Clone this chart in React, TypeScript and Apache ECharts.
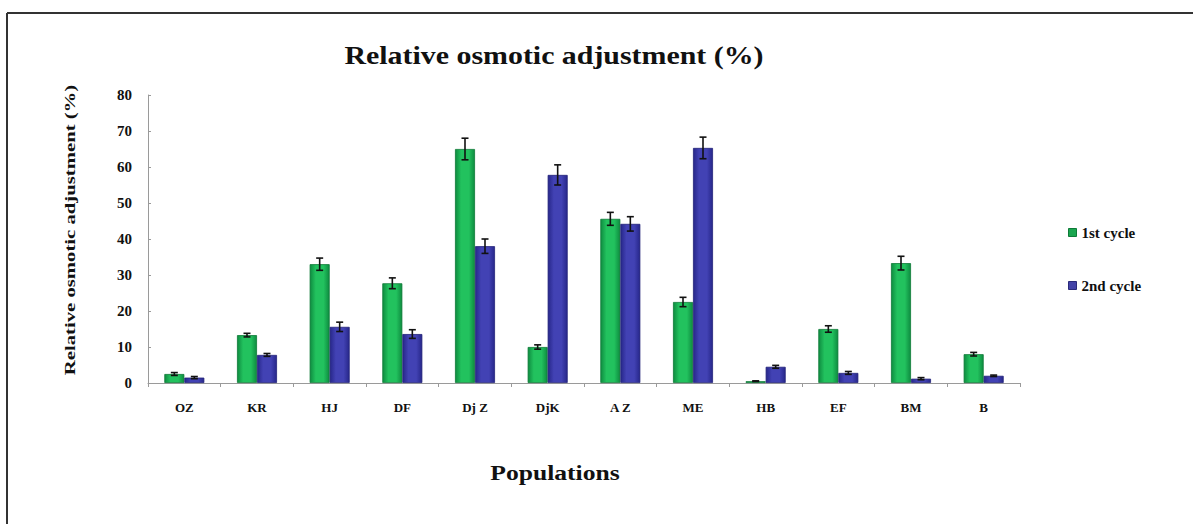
import React, { useEffect, useRef } from "react";
import * as echarts from "echarts";

const categories = ["OZ", "KR", "HJ", "DF", "Dj Z", "DjK", "A Z", "ME", "HB", "EF", "BM", "B"];
const cycle1 = [2.5, 13.3, 33, 27.7, 65, 10, 45.6, 22.5, 0.5, 15, 33.3, 8];
const cycle2 = [1.5, 7.8, 15.6, 13.6, 38, 57.8, 44.2, 65.3, 4.5, 2.8, 1.2, 2];
const err1 = [0.4, 0.5, 1.7, 1.5, 3, 0.6, 1.8, 1.3, 0.1, 0.9, 1.9, 0.5];
const err2 = [0.3, 0.4, 1.3, 1.2, 2, 2.8, 2.0, 3.0, 0.4, 0.4, 0.3, 0.2];
const yTicks = [0, 10, 20, 30, 40, 50, 60, 70, 80];

const FONT = "'Liberation Serif', 'Times New Roman', serif";

const greenGrad = new echarts.graphic.LinearGradient(0, 0, 1, 0, [
  { offset: 0, color: "#0e8c40" },
  { offset: 0.3, color: "#22c25e" },
  { offset: 0.7, color: "#22c25e" },
  { offset: 1, color: "#0e8c40" },
]);
const blueGrad = new echarts.graphic.LinearGradient(0, 0, 1, 0, [
  { offset: 0, color: "#27278a" },
  { offset: 0.3, color: "#4242b4" },
  { offset: 0.7, color: "#4242b4" },
  { offset: 1, color: "#27278a" },
]);

function errSeries(values: number[], errs: number[], offset: number) {
  return {
    type: "custom",
    silent: true,
    z: 10,
    encode: { x: 0, y: [1, 2] },
    data: values.map((v, i) => [i, v - errs[i], v + errs[i]]),
    renderItem: (params: any, api: any) => {
      const c = api.value(0);
      const lo = api.coord([c, api.value(1)]);
      const hi = api.coord([c, api.value(2)]);
      const x = lo[0] + offset;
      const cap = 3.5;
      const style = { stroke: "#111", lineWidth: 1.6 };
      return {
        type: "group",
        children: [
          { type: "line", shape: { x1: x, y1: lo[1], x2: x, y2: hi[1] }, style },
          { type: "line", shape: { x1: x - cap, y1: lo[1], x2: x + cap, y2: lo[1] }, style },
          { type: "line", shape: { x1: x - cap, y1: hi[1], x2: x + cap, y2: hi[1] }, style },
        ],
      };
    },
  };
}

export default function App() {
  const ref = useRef<HTMLDivElement>(null);
  useEffect(() => {
    if (!ref.current) return;
    const chart = echarts.init(ref.current, null, { renderer: "svg" });
    chart.setOption({
      animation: false,
      backgroundColor: "#ffffff",
      legend: {
        orient: "vertical",
        left: 1063,
        top: 220,
        itemWidth: 8,
        itemHeight: 8,
        itemGap: 38,
        icon: "rect",
        textStyle: { fontFamily: FONT, fontWeight: "bold", fontSize: 15, color: "#111" },
        data: [
          { name: "1st cycle", itemStyle: { color: "#1aa64f", borderColor: "#0e7a38", borderWidth: 1 } },
          { name: "2nd cycle", itemStyle: { color: "#4343a8", borderColor: "#2a2a7a", borderWidth: 1 } },
        ],
      },
      grid: { left: 148, right: 173, top: 95, bottom: 141, containLabel: false },
      xAxis: {
        type: "category",
        data: categories,
        axisLine: { lineStyle: { color: "#9a9a9a", width: 1 } },
        axisTick: { show: true, alignWithLabel: false, length: 4, lineStyle: { color: "#9a9a9a" } },
        axisLabel: {
          fontFamily: FONT,
          fontWeight: "bold",
          fontSize: 13,
          color: "#111",
          margin: 18,
          interval: 0,
        },
      },
      yAxis: {
        type: "value",
        min: 0,
        max: 80,
        interval: 10,
        splitLine: { show: false },
        axisLine: { show: true, lineStyle: { color: "#9a9a9a", width: 1 } },
        axisTick: { show: true, inside: true, length: 3, lineStyle: { color: "#9a9a9a" } },
        axisLabel: {
          fontFamily: FONT,
          fontWeight: "bold",
          fontSize: 15,
          color: "#111",
          margin: 16,
          customValues: yTicks,
        },
      },
      graphic: [
        { type: "line", shape: { x1: 7, y1: 13, x2: 1193, y2: 13 }, style: { stroke: "#333", lineWidth: 2 } },
        { type: "line", shape: { x1: 7, y1: 13, x2: 7, y2: 524 }, style: { stroke: "#333", lineWidth: 2 } },
        {
          type: "text",
          x: 554,
          y: 55,
          scaleX: 1.15,
          style: {
            text: "Relative osmotic adjustment (%)",
            fontFamily: FONT,
            fontWeight: "bold",
            fontSize: 26,
            fill: "#111",
            align: "center",
            verticalAlign: "middle",
          },
        },
        {
          type: "text",
          x: 70,
          y: 230,
          rotation: Math.PI / 2,
          scaleX: 1.48,
          style: {
            text: "Relative osmotic adjustment (%)",
            fontFamily: FONT,
            fontWeight: "bold",
            fontSize: 14,
            fill: "#111",
            align: "center",
            verticalAlign: "middle",
          },
        },
        {
          type: "text",
          x: 555,
          y: 473,
          scaleX: 1.22,
          style: {
            text: "Populations",
            fontFamily: FONT,
            fontWeight: "bold",
            fontSize: 21,
            fill: "#111",
            align: "center",
            verticalAlign: "middle",
          },
        },
      ],
      series: [
        {
          name: "1st cycle",
          type: "bar",
          data: cycle1,
          barWidth: 20,
          barGap: "0%",
          itemStyle: { color: greenGrad, borderColor: "#0c7a36", borderWidth: 0.8 },
        },
        {
          name: "2nd cycle",
          type: "bar",
          data: cycle2,
          barWidth: 20,
          barGap: "0%",
          itemStyle: { color: blueGrad, borderColor: "#222278", borderWidth: 0.8 },
        },
        errSeries(cycle1, err1, -10),
        errSeries(cycle2, err2, 10),
      ],
    });
    return () => chart.dispose();
  }, []);
  return (
    <div
      ref={ref}
      style={{ position: "fixed", left: 0, top: 0, width: 1193, height: 524, background: "#fff" }}
    />
  );
}
